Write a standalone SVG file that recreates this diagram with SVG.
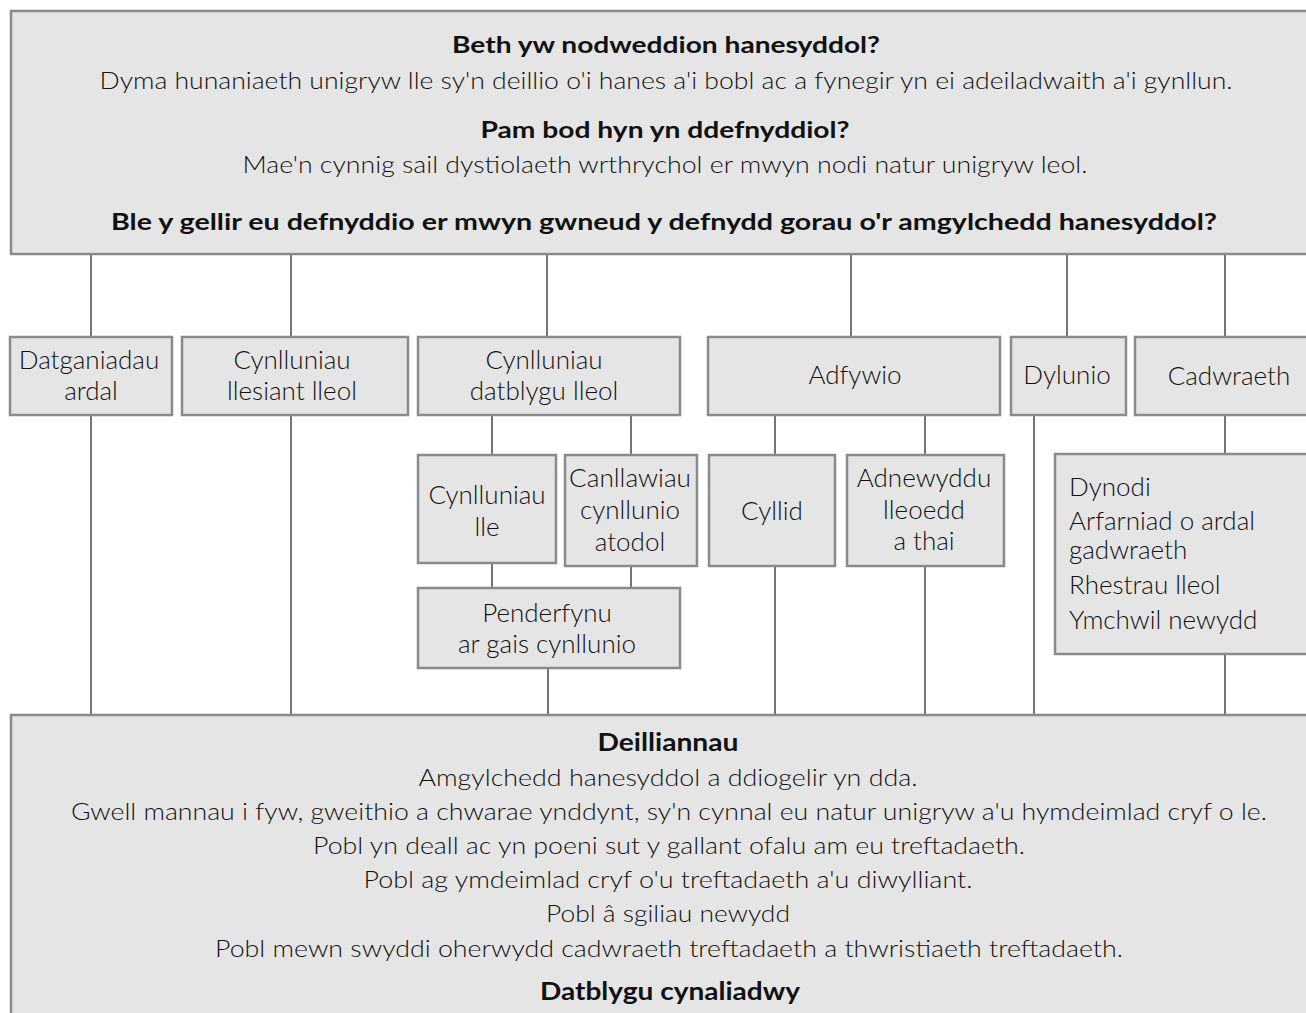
<svg xmlns="http://www.w3.org/2000/svg" width="1306" height="1013" viewBox="0 0 1306 1013">
<style>
.box{fill:#e5e5e5;stroke:#8a8a8a;stroke-width:2.5}
.t{font-family:Lato,"Open Sans","Liberation Sans",sans-serif;font-weight:300;fill:#111;text-anchor:middle}
.b{font-family:Lato,"Open Sans","Liberation Sans",sans-serif;font-weight:700;fill:#111;text-anchor:middle}
.top{font-size:23px}
.bot{font-size:24px}
.n{font-size:26px}
.l{text-anchor:start}
.c{stroke:#3a3a3a;stroke-width:1.4;fill:none}
</style>
<rect width="1306" height="1013" fill="#fff"/>
<g id="connectors">
<path class="c" d="M91 255V337M91 415V715M291 255V337M291 415V715M547 255V337M492 415V455M492 563V588M631 415V455M631 566V588M548 668V715M851 255V337M775 415V455M775 566V715M925 415V455M925 566V715M1067 255V337M1034 415V715M1225 255V337M1225 415V454M1225 654V715"/>
</g>
<g id="top">
<rect class="box" x="11" y="11" width="1320" height="243"/>
<text class="b top" x="666" y="53" textLength="428" lengthAdjust="spacingAndGlyphs">Beth yw nodweddion hanesyddol?</text>
<text class="t top" x="666" y="89" textLength="1133" lengthAdjust="spacingAndGlyphs">Dyma hunaniaeth unigryw lle sy'n deillio o'i hanes a'i bobl ac a fynegir yn ei adeiladwaith a'i gynllun.</text>
<text class="b top" x="665" y="138" textLength="369" lengthAdjust="spacingAndGlyphs">Pam bod hyn yn ddefnyddiol?</text>
<text class="t top" x="665" y="173" textLength="845" lengthAdjust="spacingAndGlyphs">Mae'n cynnig sail dystiolaeth wrthrychol er mwyn nodi natur unigryw leol.</text>
<text class="b top" x="664" y="230" textLength="1106" lengthAdjust="spacingAndGlyphs">Ble y gellir eu defnyddio er mwyn gwneud y defnydd gorau o'r amgylchedd hanesyddol?</text>
</g>
<g id="datganiadau">
<rect class="box" x="10" y="337" width="162" height="78"/>
<text class="t n" x="89" y="369">Datganiadau</text>
<text class="t n" x="91" y="400">ardal</text>
</g>
<g id="llesiant">
<rect class="box" x="182" y="337" width="226" height="78"/>
<text class="t n" x="292" y="369">Cynlluniau</text>
<text class="t n" x="292" y="400">llesiant lleol</text>
</g>
<g id="datblygu">
<rect class="box" x="418" y="337" width="262" height="78"/>
<text class="t n" x="544" y="369">Cynlluniau</text>
<text class="t n" x="544" y="400">datblygu lleol</text>
</g>
<g id="adfywio">
<rect class="box" x="708" y="337" width="292" height="78"/>
<text class="t n" x="855" y="384">Adfywio</text>
</g>
<g id="dylunio">
<rect class="box" x="1011" y="337" width="115" height="78"/>
<text class="t n" x="1067" y="384">Dylunio</text>
</g>
<g id="cadwraeth">
<rect class="box" x="1135" y="337" width="190" height="78"/>
<text class="t n" x="1229" y="385">Cadwraeth</text>
</g>
<g id="cynlluniau-lle">
<rect class="box" x="418" y="455" width="138" height="108"/>
<text class="t n" x="487" y="504">Cynlluniau</text>
<text class="t n" x="487" y="536">lle</text>
</g>
<g id="canllawiau">
<rect class="box" x="565" y="455" width="132" height="111"/>
<text class="t n" x="630" y="487" textLength="122" lengthAdjust="spacingAndGlyphs">Canllawiau</text>
<text class="t n" x="630" y="519">cynllunio</text>
<text class="t n" x="630" y="551">atodol</text>
</g>
<g id="cyllid">
<rect class="box" x="709" y="455" width="126" height="111"/>
<text class="t n" x="772" y="520">Cyllid</text>
</g>
<g id="adnewyddu">
<rect class="box" x="847" y="455" width="157" height="111"/>
<text class="t n" x="924" y="487">Adnewyddu</text>
<text class="t n" x="924" y="519">lleoedd</text>
<text class="t n" x="924" y="550">a thai</text>
</g>
<g id="cadwraeth-list">
<rect class="box" x="1055" y="454" width="270" height="200"/>
<text class="t n l" x="1069" y="496">Dynodi</text>
<text class="t n l" x="1069" y="530">Arfarniad o ardal</text>
<text class="t n l" x="1069" y="559">gadwraeth</text>
<text class="t n l" x="1069" y="594">Rhestrau lleol</text>
<text class="t n l" x="1069" y="629">Ymchwil newydd</text>
</g>
<g id="penderfynu">
<rect class="box" x="418" y="588" width="262" height="80"/>
<text class="t n" x="547" y="622">Penderfynu</text>
<text class="t n" x="547" y="653">ar gais cynllunio</text>
</g>
<g id="deilliannau">
<rect class="box" x="11" y="715" width="1320" height="320"/>
<text class="b bot" x="668" y="751" textLength="141" lengthAdjust="spacingAndGlyphs">Deilliannau</text>
<text class="t bot" x="668" y="786" textLength="499" lengthAdjust="spacingAndGlyphs">Amgylchedd hanesyddol a ddiogelir yn dda.</text>
<text class="t bot" x="669" y="820" textLength="1196" lengthAdjust="spacingAndGlyphs">Gwell mannau i fyw, gweithio a chwarae ynddynt, sy'n cynnal eu natur unigryw a'u hymdeimlad cryf o le.</text>
<text class="t bot" x="669" y="854" textLength="712" lengthAdjust="spacingAndGlyphs">Pobl yn deall ac yn poeni sut y gallant ofalu am eu treftadaeth.</text>
<text class="t bot" x="668" y="888" textLength="609" lengthAdjust="spacingAndGlyphs">Pobl ag ymdeimlad cryf o'u treftadaeth a'u diwylliant.</text>
<text class="t bot" x="668" y="922" textLength="244" lengthAdjust="spacingAndGlyphs">Pobl â sgiliau newydd</text>
<text class="t bot" x="669" y="957" textLength="908" lengthAdjust="spacingAndGlyphs">Pobl mewn swyddi oherwydd cadwraeth treftadaeth a thwristiaeth treftadaeth.</text>
<text class="b bot" x="670" y="1000" textLength="260" lengthAdjust="spacingAndGlyphs">Datblygu cynaliadwy</text>
</g>
</svg>
